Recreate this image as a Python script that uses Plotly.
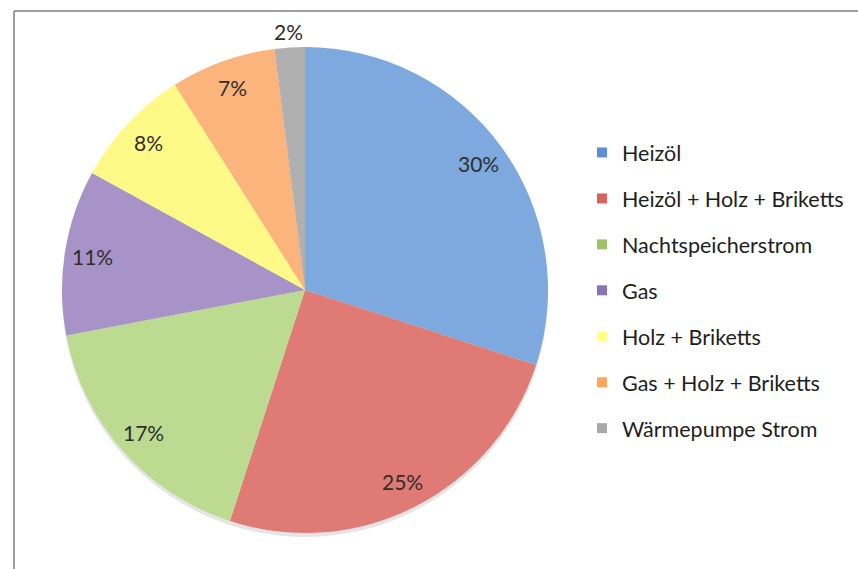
import math
import plotly.graph_objects as go

# Heating energy sources and their shares (percent)
labels = [
    "Heizöl",
    "Heizöl + Holz + Briketts",
    "Nachtspeicherstrom",
    "Gas",
    "Holz + Briketts",
    "Gas + Holz + Briketts",
    "Wärmepumpe Strom",
]
shares = [30, 25, 17, 11, 8, 7, 2]

slice_colors = ["#7ea9de", "#e07a75", "#bddb90", "#a793c8", "#fffa88", "#fbb57c", "#b0b0b0"]
legend_colors = ["#5b8fd5", "#d9625e", "#9cc36a", "#8a73b8", "#ffff88", "#fba55d", "#a9a9a9"]

W, H = 858, 569
CX, CY, R = 305, 290, 243  # pie centre / radius in pixels

fig = go.Figure()

fig.add_trace(go.Pie(
    labels=labels,
    values=shares,
    sort=False,
    direction="clockwise",
    rotation=0,
    textinfo="none",
    marker=dict(colors=slice_colors, line=dict(width=0)),
    showlegend=False,
    hoverinfo="label+percent",
    domain=dict(x=[(CX - R) / W, (CX + R) / W],
                y=[1 - (CY + R) / H, 1 - (CY - R) / H]),
))

# Legend entries, one group each so the rows can be spaced apart
for i, (lab, col) in enumerate(zip(labels, legend_colors)):
    fig.add_trace(go.Scatter(
        x=[None], y=[None], mode="markers", name=lab,
        legendgroup=f"g{i}",
        marker=dict(symbol="square", size=10, color=col),
    ))

# Percentage labels placed along each slice's mid angle
total = sum(shares)
annotations = []
cum = 0
for v in shares:
    mid = math.radians((cum + v / 2) / total * 360)
    cum += v
    r = R * (1.066 if v / total < 0.05 else 0.885)
    px = CX + r * math.sin(mid)
    py = CY - r * math.cos(mid)
    annotations.append(dict(
        x=px / W, y=1 - py / H, xref="paper", yref="paper",
        text=f"{round(v / total * 100)}%", showarrow=False,
        font=dict(family="Lato", size=21, color="#2e2e2e"),
        xanchor="center", yanchor="middle",
    ))

fig.update_layout(
    width=W, height=H,
    margin=dict(l=0, r=0, t=0, b=0),
    paper_bgcolor="white",
    plot_bgcolor="white",
    xaxis=dict(visible=False),
    yaxis=dict(visible=False),
    annotations=annotations,
    legend=dict(
        x=582 / W, y=1 - 132 / H, xanchor="left", yanchor="top",
        font=dict(family="Lato", size=21.5, color="#1e1e1e"),
        tracegroupgap=15,
        bgcolor="rgba(0,0,0,0)",
    ),
    shapes=[
        # soft shadow under the pie
        dict(type="circle", xref="paper", yref="paper", layer="below",
             x0=(CX - R) / W, x1=(CX + R) / W,
             y0=1 - (CY + R + 4) / H, y1=1 - (CY - R + 4) / H,
             fillcolor="rgba(0,0,0,0.10)", line=dict(width=0)),
        # chart frame
        dict(type="line", xref="paper", yref="paper",
             x0=14 / W, x1=1, y0=1 - 11 / H, y1=1 - 11 / H,
             line=dict(color="#7f7f7f", width=1.5)),
        dict(type="line", xref="paper", yref="paper",
             x0=14 / W, x1=14 / W, y0=1 - 11 / H, y1=0,
             line=dict(color="#7f7f7f", width=1.5)),
    ],
)

fig.write_html("out.html")
